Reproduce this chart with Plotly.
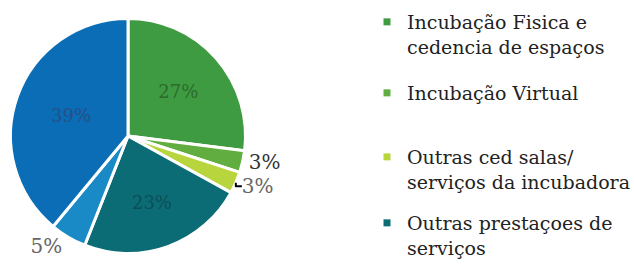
import plotly.graph_objects as go

categories = ["Incubação Fisica e cedencia de espaços", "Incubação Virtual",
              "Outras ced salas/ serviços da incubadora", "Outras prestaçoes de serviços",
              "Outros serviços", "Outros rendimentos"]
values = [27, 3, 3, 23, 5, 39]
legend_labels = ["Incubação Fisica e<br>cedencia de espaços", "Incubação Virtual",
                 "Outras ced salas/<br>serviços da incubadora", "Outras prestaçoes de<br>serviços"]

colors = ["#3f9b41", "#62ad3f", "#b9d53e", "#0b6c76", "#1a8ac6", "#0a6db6"]
text_colors = ["#2a6a2c", "#333333", "#666666", "#0d4e56", "#666666", "#274f86"]
positions = ["inside", "outside", "outside", "inside", "outside", "inside"]

fig = go.Figure()
fig.add_trace(go.Pie(
    labels=categories, values=values, sort=False, direction="clockwise", rotation=0,
    marker=dict(colors=colors, line=dict(color="white", width=3)),
    texttemplate="%{value}%", textposition=positions,
    insidetextorientation="horizontal",
    textfont=dict(family="DejaVu Serif", size=18, color=text_colors),
    outsidetextfont=dict(family="DejaVu Serif", size=20, color=text_colors),
    showlegend=False, hoverinfo="label+percent",
    domain=dict(x=[10.5/634, 245.5/634], y=[1-253.5/264, 1-18.5/264]),
))

legend_names = ["legend", "legend2", "legend3", "legend4"]
legend_tops = [3, 74, 138, 204]
for i, lab in enumerate(legend_labels):
    fig.add_trace(go.Scatter(
        x=[None], y=[None], mode="markers", name=lab,
        marker=dict(symbol="square", size=7, color=colors[i]),
        legend=legend_names[i], showlegend=True,
    ))

legend_common = dict(font=dict(family="DejaVu Serif", size=19, color="#222222"),
                     bgcolor="rgba(0,0,0,0)", valign="top", itemwidth=30,
                     xanchor="left", yanchor="top", tracegroupgap=0)
layout_legends = {}
for name, top in zip(legend_names, legend_tops):
    layout_legends[name] = dict(x=367/634, y=1-top/264, **legend_common)

fig.update_layout(
    width=634, height=264, margin=dict(l=0, r=0, t=0, b=0, autoexpand=False),
    paper_bgcolor="white", plot_bgcolor="white",
    xaxis=dict(visible=False), yaxis=dict(visible=False),
    **layout_legends,
)
fig.write_html("out.html", config={"displayModeBar": False},
               post_script="document.body.style.margin='0';document.body.style.overflow='hidden';")
